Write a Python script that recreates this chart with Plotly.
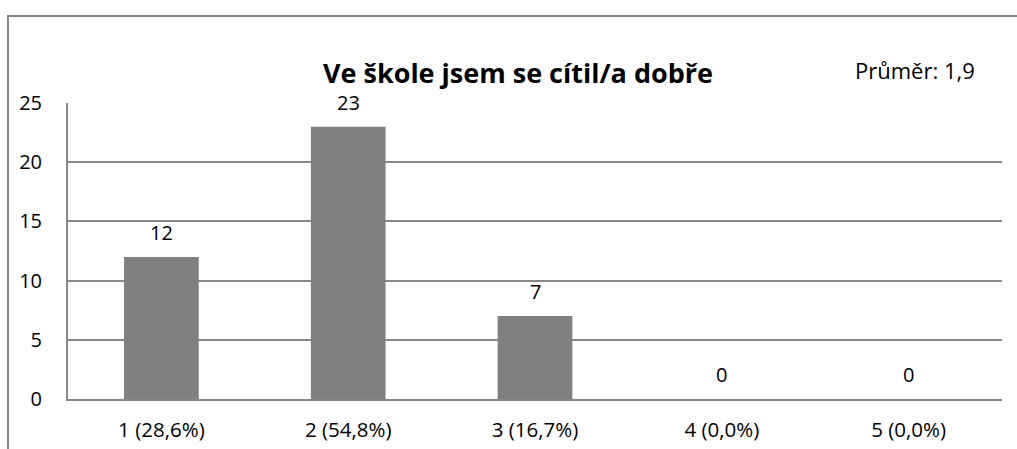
import plotly.graph_objects as go

# Survey answers: grade 1..5 with share of respondents
categories = ["1 (28,6%)", "2 (54,8%)", "3 (16,7%)", "4 (0,0%)", "5 (0,0%)"]
counts = [12, 23, 7, 0, 0]
title_text = "Ve škole jsem se cítil/a dobře"
mean_text = "Průměr: 1,9"
y_ticks = [0, 5, 10, 15, 20, 25]

W, H = 1017, 449
L, R, T, B = 68, 15, 103, 50
pw, ph = W - L - R, H - T - B

FONT = "Open Sans, sans-serif"
GRID = "#878787"

fig = go.Figure(
    go.Bar(
        x=categories,
        y=counts,
        marker=dict(color="#808080", line=dict(width=0)),
        width=0.4,
        cliponaxis=False,
    )
)

# value labels above each bar
for cat, v in zip(categories, counts):
    fig.add_annotation(
        x=cat,
        y=v,
        text=str(v),
        showarrow=False,
        yanchor="bottom",
        yshift=9,
        font=dict(family=FONT, size=20, color="#000000"),
    )

def px_x(p):
    return (p - L) / pw

def px_y(p):
    return (H - B - p) / ph

fig.update_layout(
    width=W,
    height=H,
    margin=dict(l=L, r=R, t=T, b=B, autoexpand=False),
    paper_bgcolor="white",
    plot_bgcolor="white",
    showlegend=False,
    font=dict(family=FONT, size=20, color="#000000"),
    title=dict(
        text=f"<b>{title_text}</b>",
        x=518 / W,
        xanchor="center",
        y=1 - 74 / H,
        yanchor="middle",
        font=dict(family=FONT, size=27, color="#000000"),
    ),
    xaxis=dict(
        automargin=False,
        showgrid=False,
        showline=True,
        linecolor=GRID,
        linewidth=2,
        ticks="",
        tickfont=dict(family=FONT, size=20.5),
        ticklabelstandoff=11,
    ),
    yaxis=dict(
        automargin=False,
        range=[0, 25],
        tickvals=y_ticks,
        showgrid=True,
        gridcolor=GRID,
        gridwidth=2,
        showline=True,
        linecolor=GRID,
        linewidth=2,
        zeroline=False,
        ticks="",
        tickfont=dict(family=FONT, size=20),
        ticklabelstandoff=20,
    ),
    shapes=[
        dict(
            type="rect",
            xref="paper",
            yref="paper",
            x0=px_x(8),
            x1=px_x(1030),
            y0=px_y(470),
            y1=px_y(16),
            line=dict(color=GRID, width=2),
            fillcolor="rgba(0,0,0,0)",
            layer="below",
        )
    ],
    annotations=list(fig.layout.annotations) + [
        dict(
            text=mean_text,
            xref="paper",
            yref="paper",
            x=px_x(915),
            y=px_y(70),
            xanchor="center",
            yanchor="middle",
            showarrow=False,
            font=dict(family=FONT, size=22, color="#000000"),
        )
    ],
)

fig.write_html("out.html")
